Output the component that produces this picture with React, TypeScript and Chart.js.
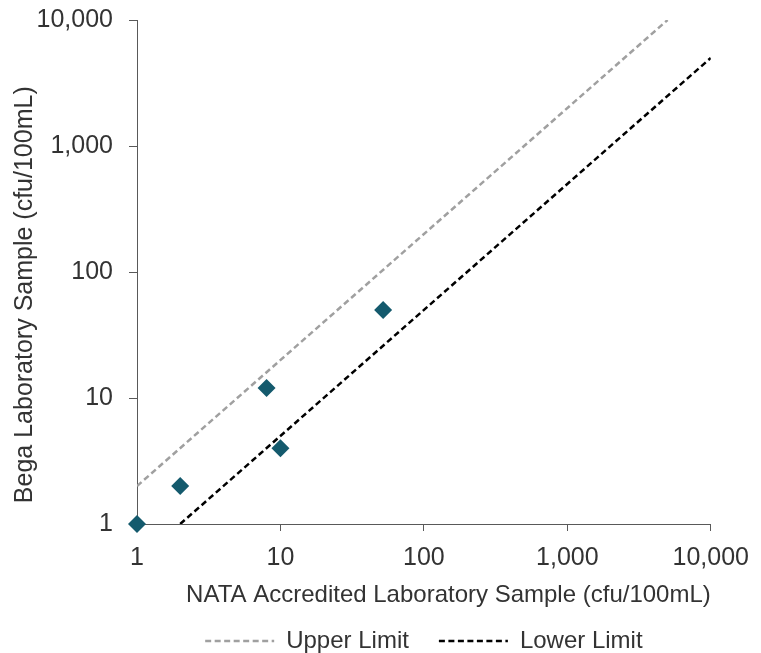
import React, { useEffect, useRef } from 'react';
import { Chart, registerables } from 'chart.js';

Chart.register(...registerables);

// Sample pairs (NATA lab vs Bega lab)
const sampleX = [1, 2, 8, 10, 52];
const sampleY = [1, 2, 12, 4, 50];
// Limit lines
const upperX = [1, 5000];
const upperY = [2, 10000];
const lowerX = [2, 10000];
const lowerY = [1, 5000];
const tickValues = [1, 10, 100, 1000, 10000];
const seriesNames = ['Upper Limit', 'Lower Limit'];
const xTitle = 'NATA Accredited Laboratory Sample (cfu/100mL)';
const yTitle = '   Bega Laboratory Sample (cfu/100mL)';

const FONT = "'Liberation Sans', Arial, sans-serif";
const TEXT = '#333333';
const AXIS = '#595959';

const toPoints = (xs: number[], ys: number[]) => xs.map((x, i) => ({ x, y: ys[i] }));

export default function App() {
  const ref = useRef<HTMLCanvasElement | null>(null);

  useEffect(() => {
    if (!ref.current) return;
    const fixedTicks = (scale: any) => {
      scale.ticks = tickValues.map((v) => ({ value: v }));
    };
    const chart = new Chart(ref.current, {
      type: 'scatter',
      data: {
        datasets: [
          {
            label: 'Samples',
            data: toPoints(sampleX, sampleY),
            pointStyle: 'rectRot',
            pointRadius: 9,
            pointHoverRadius: 9,
            backgroundColor: '#145a6d',
            borderColor: '#145a6d',
            borderWidth: 0,
            clip: false,
          } as any,
          {
            type: 'line',
            label: seriesNames[0],
            data: toPoints(upperX, upperY),
            borderColor: '#a0a0a0',
            backgroundColor: 'rgba(0,0,0,0)',
            borderWidth: 2.5,
            borderDash: [6, 3.5],
            pointRadius: 0,
            fill: false,
          } as any,
          {
            type: 'line',
            label: seriesNames[1],
            data: toPoints(lowerX, lowerY),
            borderColor: '#000000',
            backgroundColor: 'rgba(0,0,0,0)',
            borderWidth: 2.5,
            borderDash: [6, 3.5],
            pointRadius: 0,
            fill: false,
          } as any,
        ],
      },
      options: {
        animation: false,
        responsive: true,
        maintainAspectRatio: false,
        layout: { padding: { left: 0, right: 50, top: 20, bottom: 0 } },
        plugins: {
          tooltip: { enabled: false },
          legend: {
            position: 'bottom',
            fullSize: false,
            labels: {
              usePointStyle: true,
              pointStyle: 'line',
              pointStyleWidth: 69,
              padding: 30,
              color: TEXT,
              font: { family: FONT, size: 24 },
              generateLabels: (c: any) => {
                const base = (Chart as any).defaults.plugins.legend.labels.generateLabels(c);
                return base
                  .filter((it: any) => it.datasetIndex > 0)
                  .map((it: any) => {
                    const ds: any = c.data.datasets[it.datasetIndex];
                    return {
                      ...it,
                      pointStyle: 'line',
                      lineDash: ds.borderDash,
                      strokeStyle: ds.borderColor,
                      lineWidth: ds.borderWidth,
                    };
                  });
              },
            },
          },
        },
        scales: {
          x: {
            type: 'logarithmic',
            min: 1,
            max: 10000,
            afterBuildTicks: fixedTicks,
            afterFit: (s: any) => {
              s.height = 75;
            },
            grid: { display: true, drawOnChartArea: false, drawTicks: true, tickLength: 7, color: AXIS, lineWidth: 1 },
            border: { display: true, color: AXIS, width: 1 },
            ticks: {
              color: TEXT,
              padding: 12,
              maxRotation: 0,
              autoSkip: false,
              font: { family: FONT, size: 25 },
              callback: (v: any) => Number(v).toLocaleString('en-US'),
            },
            title: {
              display: true,
              text: xTitle,
              align: 'end',
              color: TEXT,
              font: { family: FONT, size: 24 },
              padding: { top: 0, bottom: -11 },
            },
          },
          y: {
            type: 'logarithmic',
            min: 1,
            max: 10000,
            afterBuildTicks: fixedTicks,
            afterFit: (s: any) => {
              s.width = 137;
              s.paddingTop = 0;
              s.paddingBottom = 0;
            },
            grid: { display: true, drawOnChartArea: false, drawTicks: true, tickLength: 8, color: AXIS, lineWidth: 1 },
            border: { display: true, color: AXIS, width: 1 },
            ticks: {
              color: TEXT,
              padding: 16,
              autoSkip: false,
              font: { family: FONT, size: 25 },
              callback: (v: any) => Number(v).toLocaleString('en-US'),
            },
            title: {
              display: true,
              text: yTitle,
              align: 'start',
              color: TEXT,
              font: { family: FONT, size: 25 },
              padding: { top: 10, bottom: 0 },
            },
          },
        },
      },
    });
    return () => chart.destroy();
  }, []);

  return (
    <div style={{ position: 'fixed', left: 0, top: 0, width: 761, height: 663, background: '#fff' }}>
      <canvas ref={ref} />
    </div>
  );
}
